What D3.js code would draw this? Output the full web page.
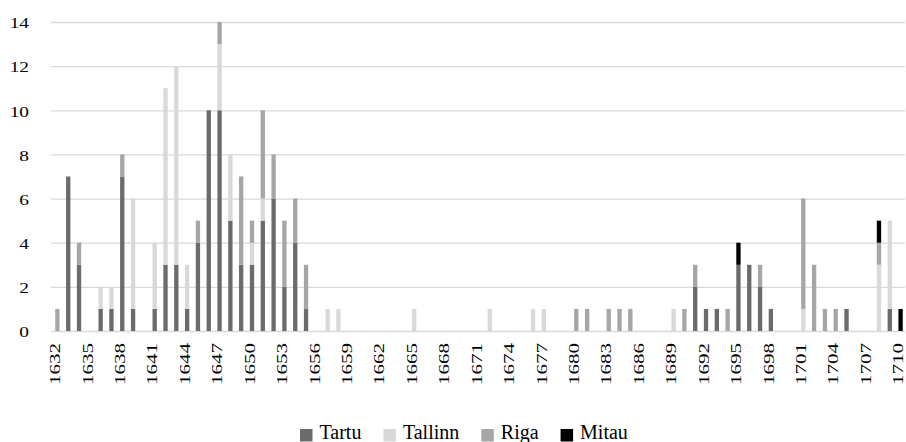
<!DOCTYPE html>
<html>
<head>
<meta charset="utf-8">
<script src="https://cdn.jsdelivr.net/npm/d3@7"></script>
<style>
    body { margin: 0; background: #fff; }
    svg text { font-family: "Liberation Serif", "Times New Roman", serif; }
</style>
</head>
<body>
<div id="chart"></div>
<script>
const years = [1632, 1633, 1634, 1635, 1636, 1637, 1638, 1639, 1640, 1641,
    1642, 1643, 1644, 1645, 1646, 1647, 1648, 1649, 1650, 1651,
    1652, 1653, 1654, 1655, 1656, 1657, 1658, 1659, 1660, 1661,
    1662, 1663, 1664, 1665, 1666, 1667, 1668, 1669, 1670, 1671,
    1672, 1673, 1674, 1675, 1676, 1677, 1678, 1679, 1680, 1681,
    1682, 1683, 1684, 1685, 1686, 1687, 1688, 1689, 1690, 1691,
    1692, 1693, 1694, 1695, 1696, 1697, 1698, 1699, 1700, 1701,
    1702, 1703, 1704, 1705, 1706, 1707, 1708, 1709, 1710];

const tartu = [0, 7, 3, 0, 1, 1, 7, 1, 0, 1,
    3, 3, 1, 4, 10, 10, 5, 3, 3, 5,
    6, 2, 4, 1, 0, 0, 0, 0, 0, 0,
    0, 0, 0, 0, 0, 0, 0, 0, 0, 0,
    0, 0, 0, 0, 0, 0, 0, 0, 0, 0,
    0, 0, 0, 0, 0, 0, 0, 0, 0, 2,
    1, 1, 0, 3, 3, 2, 1, 0, 0, 0,
    0, 0, 0, 1, 0, 0, 0, 1, 0];

const tallinn = [0, 0, 0, 0, 1, 1, 0, 5, 0, 3,
    8, 9, 2, 0, 0, 3, 3, 0, 1, 1,
    0, 0, 0, 0, 0, 1, 1, 0, 0, 0,
    0, 0, 0, 1, 0, 0, 0, 0, 0, 0,
    1, 0, 0, 0, 1, 1, 0, 0, 0, 0,
    0, 0, 0, 0, 0, 0, 0, 1, 0, 0,
    0, 0, 0, 0, 0, 0, 0, 0, 0, 1,
    0, 0, 0, 0, 0, 0, 3, 4, 0];

const riga = [1, 0, 1, 0, 0, 0, 1, 0, 0, 0,
    0, 0, 0, 1, 0, 1, 0, 4, 1, 4,
    2, 3, 2, 2, 0, 0, 0, 0, 0, 0,
    0, 0, 0, 0, 0, 0, 0, 0, 0, 0,
    0, 0, 0, 0, 0, 0, 0, 0, 1, 1,
    0, 1, 1, 1, 0, 0, 0, 0, 1, 1,
    0, 0, 1, 0, 0, 1, 0, 0, 0, 5,
    3, 1, 1, 0, 0, 0, 1, 0, 0];

const mitau = [0, 0, 0, 0, 0, 0, 0, 0, 0, 0,
    0, 0, 0, 0, 0, 0, 0, 0, 0, 0,
    0, 0, 0, 0, 0, 0, 0, 0, 0, 0,
    0, 0, 0, 0, 0, 0, 0, 0, 0, 0,
    0, 0, 0, 0, 0, 0, 0, 0, 0, 0,
    0, 0, 0, 0, 0, 0, 0, 0, 0, 0,
    0, 0, 0, 1, 0, 0, 0, 0, 0, 0,
    0, 0, 0, 0, 0, 0, 1, 0, 1];

const seriesNames = ["Tartu", "Tallinn", "Riga", "Mitau"];
const seriesColors = ["#6b6b6b", "#d9d9d9", "#a6a6a6", "#000000"];
const yTicks = [0, 2, 4, 6, 8, 10, 12, 14];
const xTickLabels = years.filter((d, i) => i % 3 === 0);

const W = 906, H = 442;
const margin = {top: 22, right: 1, bottom: 111, left: 51};
const width = W - margin.left - margin.right;
const height = H - margin.top - margin.bottom;
const fontFam = '"Liberation Serif", "Times New Roman", serif';

const table = years.map((yr, i) => ({
    year: yr, Tartu: tartu[i], Tallinn: tallinn[i], Riga: riga[i], Mitau: mitau[i]
}));

const svg = d3.select("#chart")
    .append("svg")
    .attr("width", W)
    .attr("height", H);

const g = svg.append("g")
    .attr("transform", "translate(" + margin.left + "," + margin.top + ")");

const x = d3.scaleBand()
    .domain(years)
    .range([0, width])
    .paddingInner(0.6)
    .paddingOuter(0.3);

const y = d3.scaleLinear()
    .domain([0, 14])
    .range([height, 0]);

// Y as + rasterlijnen
const yAxis = g.append("g")
    .call(d3.axisLeft(y).tickValues(yTicks).tickSize(-width).tickPadding(0))
    .attr("font-family", fontFam);
yAxis.select(".domain").remove();
yAxis.selectAll(".tick line")
    .attr("stroke", "#d9d9d9")
    .attr("stroke-width", 1.3);
yAxis.selectAll(".tick text")
    .attr("x", null)
    .attr("dy", null)
    .attr("fill", "#000")
    .style("font-size", "15px")
    .attr("text-anchor", "end")
    .attr("dominant-baseline", "central")
    .attr("transform", "translate(-22,1) scale(1.29,1)");

// X as
const xAxis = g.append("g")
    .attr("transform", "translate(0," + height + ")")
    .call(d3.axisBottom(x).tickValues(xTickLabels).tickSize(0))
    .attr("font-family", fontFam);
xAxis.select(".domain").remove();
xAxis.selectAll(".tick text")
    .attr("y", null)
    .attr("dy", null)
    .attr("fill", "#000")
    .style("font-size", "14px")
    .attr("text-anchor", "end")
    .attr("dominant-baseline", "central")
    .attr("transform", "translate(-1,12) rotate(-90) scale(1.5,1)");

// gestapelde staven
const stack = d3.stack().keys(seriesNames)(table);
const color = d3.scaleOrdinal().domain(seriesNames).range(seriesColors);

g.append("g")
    .selectAll("g")
    .data(stack)
    .join("g")
    .attr("fill", d => color(d.key))
    .selectAll("rect")
    .data(d => d.filter(p => p[1] > p[0]))
    .join("rect")
    .attr("x", d => x(d.data.year) + 1)
    .attr("y", d => y(d[1]))
    .attr("width", x.bandwidth())
    .attr("height", d => y(d[0]) - y(d[1]));

// legenda
const legend = svg.append("g").attr("transform", "translate(300,439)");
let lx = 0;
seriesNames.forEach(name => {
    const item = legend.append("g").attr("transform", "translate(" + lx + ",0)");
    item.append("rect")
        .attr("x", 0)
        .attr("y", -10)
        .attr("width", 12.5)
        .attr("height", 12.5)
        .attr("fill", color(name));
    const t = item.append("text")
        .attr("x", 19.5)
        .attr("y", 0)
        .attr("font-family", fontFam)
        .style("font-size", "20px")
        .attr("fill", "#000")
        .text(name);
    lx += 19.5 + t.node().getComputedTextLength() + 22;
});
</script>
</body>
</html>
